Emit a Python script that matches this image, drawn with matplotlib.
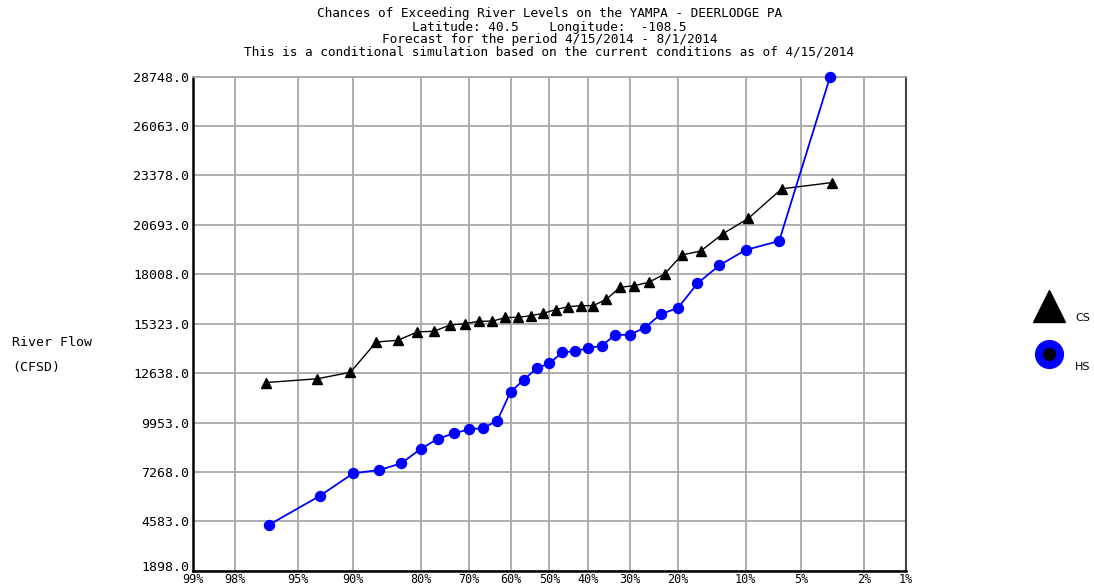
import numpy as np
import matplotlib
matplotlib.use("Agg")
import matplotlib.pyplot as plt
from matplotlib.lines import Line2D
from matplotlib.ticker import FixedLocator, FixedFormatter
from matplotlib.transforms import ScaledTranslation
from statistics import NormalDist

# ---------------- data ----------------
title_lines = [
    "Chances of Exceeding River Levels on the YAMPA - DEERLODGE PA",
    "Latitude: 40.5    Longitude:  -108.5",
    "Forecast for the period 4/15/2014 - 8/1/2014",
    "This is a conditional simulation based on the current conditions as of 4/15/2014",
]
# conditional simulation (CS), sorted ascending (cfsd)
cs_values = [12127, 12328, 12681, 14328, 14421, 14872, 14915, 15252, 15323, 15455,
             15460, 15660, 15670, 15758, 15888, 16084, 16247, 16301, 16305, 16649,
             17301, 17388, 17573, 18024, 19057, 19274, 20198, 21052, 22655, 22997]
# historical simulation (HS), sorted ascending (cfsd)
hs_values = [4382, 5958, 7192, 7371, 7735, 8513, 9072, 9366, 9583, 9654,
             10051, 11627, 12263, 12899, 13171, 13758, 13839, 13986, 14127, 14709,
             14720, 15106, 15834, 16193, 17519, 18497, 19329, 19818, 28748]
x_ticks = [99, 98, 95, 90, 80, 70, 60, 50, 40, 30, 20, 10, 5, 2, 1]
y_ticks = [1898.0, 4583.0, 7268.0, 9953.0, 12638.0, 15323.0, 18008.0,
           20693.0, 23378.0, 26063.0, 28748.0]


def exceedance(vals):
    n = len(vals)
    return np.array([(n - k) / (n + 1) * 100.0 for k in range(n)])


nd = NormalDist()
_f = np.vectorize(lambda v: nd.inv_cdf(1 - v / 100.0), otypes=[float])
_i = np.vectorize(lambda v: (1 - nd.cdf(v)) * 100.0, otypes=[float])


def fwd(p):
    p = np.clip(np.asarray(p, dtype=float), 1e-6, 100 - 1e-6)
    return _f(p)


def inv(z):
    return _i(np.asarray(z, dtype=float))


mono = "DejaVu Sans Mono"
fig = plt.figure(figsize=(10.94, 5.86), dpi=100)
L, R, T, B = 193.3, 905.5, 76.7, 570.7
W, H = 1094, 586
ax = fig.add_axes([L / W, 1 - B / H, (R - L) / W, (B - T) / H])
ax.set_xscale("function", functions=(fwd, inv))
ax.set_xlim(1, 99)
ax.set_ylim(y_ticks[0], y_ticks[-1])

ax.xaxis.set_major_locator(FixedLocator(x_ticks))
ax.xaxis.set_major_formatter(FixedFormatter([f"{t}%" for t in x_ticks]))
ax.xaxis.set_minor_locator(FixedLocator([]))
ax.set_yticks(y_ticks)
ax.set_yticklabels([f"{t:.1f}" for t in y_ticks])
ax.tick_params(axis="both", length=0)
ax.tick_params(axis="x", pad=1.5, labelsize=8.5)
ax.tick_params(axis="y", pad=3, labelsize=9.5)
for lab in ax.get_xticklabels() + ax.get_yticklabels():
    lab.set_family(mono)
# lift the lowest y label slightly, as in the reference
bottom_lab = ax.get_yticklabels()[0]
bottom_lab.set_transform(bottom_lab.get_transform() +
                         ScaledTranslation(0, 5 / 100, fig.dpi_scale_trans))

ax.grid(True, color="#a8a8a8", lw=1.3)
ax.set_axisbelow(True)
for s in ["left", "bottom"]:
    ax.spines[s].set_color("black")
    ax.spines[s].set_linewidth(1.8)
ax.spines["right"].set_color("#444444")
ax.spines["right"].set_linewidth(1.5)
ax.spines["top"].set_color("#a8a8a8")
ax.spines["top"].set_linewidth(1.3)

ax.plot(exceedance(cs_values), cs_values, color="black", lw=1.0,
        marker="^", ms=7.5, mfc="black", mec="black", clip_on=False, zorder=3)
ax.plot(exceedance(hs_values), hs_values, color="#0000ff", lw=1.3,
        marker="o", ms=7.2, mfc="#0000ff", mec="#0000ff", clip_on=False, zorder=4)

# titles
ys = [14, 27, 40, 52]
cx = (L + R) / 2 / W
for line, yy in zip(title_lines, ys):
    fig.text(cx, 1 - yy / H, line, ha="center", va="center",
             family=mono, fontsize=9.2)

# y label
fig.text(12 / W, 1 - 343 / H, "River Flow", ha="left", va="center",
         family=mono, fontsize=9.5)
fig.text(12 / W, 1 - 367 / H, "(CFSD)", ha="left", va="center",
         family=mono, fontsize=9.5)

# legend
fig.add_artist(Line2D([1049 / W], [1 - 306 / H], marker="^", ms=23,
                      color="black", ls="none", transform=fig.transFigure))
fig.add_artist(Line2D([1049 / W], [1 - 354 / H], marker="o", ms=20,
                      color="#0000ff", ls="none", transform=fig.transFigure))
fig.add_artist(Line2D([1049 / W], [1 - 354 / H], marker="o", ms=8.5,
                      color="black", ls="none", transform=fig.transFigure))
fig.text(1075 / W, 1 - 318 / H, "CS", ha="left", va="center",
         family="DejaVu Sans", fontsize=8)
fig.text(1075 / W, 1 - 367 / H, "HS", ha="left", va="center",
         family="DejaVu Sans", fontsize=8)

fig.savefig("out.png", dpi=100)
